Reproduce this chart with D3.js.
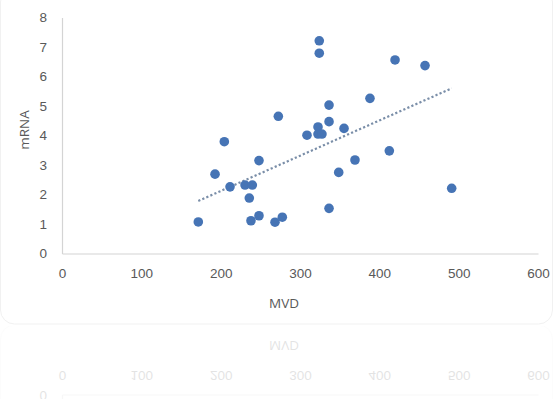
<!DOCTYPE html>
<html>
<head>
<meta charset="utf-8">
<script src="https://cdn.jsdelivr.net/npm/d3@7"></script>
<style>
  body { margin: 0; background: #fff; }
  svg { display: block; font-family: "Open Sans", "Liberation Sans", sans-serif; }
</style>
</head>
<body>
<div id="chart"></div>
<script>
"use strict";

// MVD (x) and mRNA (y)
const mvd = [171.8, 192.9, 204.6, 211.8, 230.7, 239.9, 236.1, 238.2, 248.3, 248.3,
             268.5, 277.7, 272.7, 308.8, 324.3, 324.3, 322.7, 322.7, 327.7, 336.6,
             336.6, 336.6, 348.8, 355.5, 369.3, 388.2, 412.6, 419.8, 457.6, 491.2];
const mrna = [1.07, 2.69, 3.79, 2.26, 2.32, 2.32, 1.88, 1.11, 1.28, 3.15,
              1.06, 1.23, 4.65, 4.01, 7.21, 6.79, 4.29, 4.05, 4.05, 5.03,
              4.47, 1.53, 2.75, 4.24, 3.17, 5.26, 3.48, 6.56, 6.37, 2.21];
// linear trendline end points (MVD, mRNA)
const trendX = [171.8, 491.2];
const trendY = [1.78, 5.6];
const xTicks = [0, 100, 200, 300, 400, 500, 600];
const yTicks = [0, 1, 2, 3, 4, 5, 6, 7, 8];

const W = 553, H = 399;
const svg = d3.select("#chart").append("svg")
    .attr("width", W)
    .attr("height", H);

const defs = svg.append("defs");
defs.append("clipPath").attr("id", "reflClip")
    .append("rect")
    .attr("x", 0).attr("y", 326)
    .attr("width", W).attr("height", H - 326);

// chart group (drawn once, reflected below)
const chart = svg.append("g").attr("id", "main");

// faint frame of the chart box
chart.append("rect")
    .attr("x", 0.5).attr("y", -12)
    .attr("width", W - 1).attr("height", 336)
    .attr("rx", 14)
    .attr("fill", "none")
    .attr("stroke", "#f1f1f1");

let x = d3.scaleLinear().domain([0, 600]).range([62, 538]);
let y = d3.scaleLinear().domain([0, 8]).range([253.5, 17.5]);

// axes
let xAxis = chart.append("g")
    .attr("transform", "translate(0," + y(0) + ")")
    .call(d3.axisBottom(x).tickValues(xTicks).tickSize(0).tickPadding(15));
let yAxis = chart.append("g")
    .attr("transform", "translate(" + x(0) + ",0)")
    .call(d3.axisLeft(y).tickValues(yTicks).tickSize(0).tickPadding(15));

[xAxis, yAxis].forEach(function(a) {
    a.select(".domain").attr("stroke", "#d4d4d4").attr("stroke-width", 1.2);
    a.selectAll("text")
        .attr("fill", "#595959")
        .style("font-size", "13.5px");
});

// axis titles
chart.append("text")
    .attr("x", 284).attr("y", 308)
    .attr("text-anchor", "middle")
    .attr("fill", "#595959")
    .style("font-size", "13.5px")
    .text("MVD");
chart.append("text")
    .attr("transform", "translate(29,130) rotate(-90)")
    .attr("text-anchor", "middle")
    .attr("fill", "#595959")
    .style("font-size", "13.5px")
    .text("mRNA");

// trendline
chart.append("path")
    .datum(d3.zip(trendX, trendY))
    .attr("d", d3.line().x(d => x(d[0])).y(d => y(d[1])))
    .attr("fill", "none")
    .attr("stroke", "#7a8ea8")
    .attr("stroke-width", 2.2)
    .attr("stroke-dasharray", "2.2,2.2");

// points
chart.selectAll(".dot")
    .data(d3.zip(mvd, mrna))
    .enter()
    .append("circle")
    .attr("class", "dot")
    .attr("cx", d => x(d[0]))
    .attr("cy", d => y(d[1]))
    .attr("r", 4.8)
    .attr("fill", "#4674b5");

// faint mirror reflection below the chart
svg.append("g")
    .attr("clip-path", "url(#reflClip)")
    .attr("opacity", 0.16)
    .append("use")
    .attr("href", "#main")
    .attr("transform", "translate(0,649) scale(1,-1)");
</script>
</body>
</html>
